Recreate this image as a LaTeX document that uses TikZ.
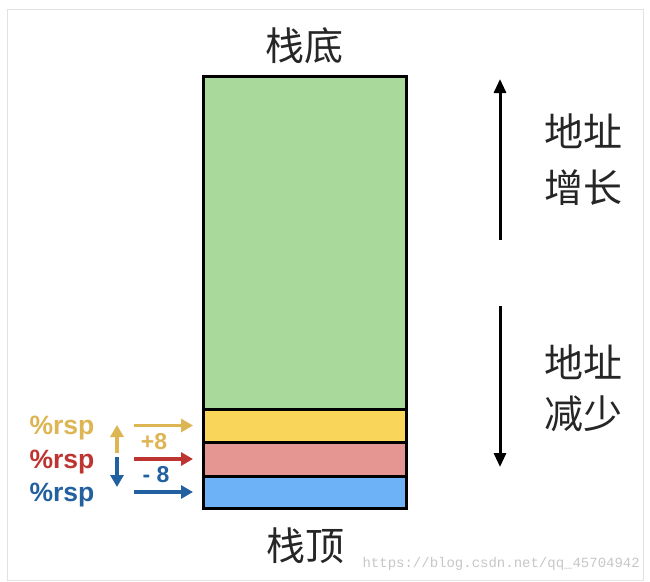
\documentclass[tikz,border=0pt]{standalone}
\usepackage{fontspec}
\setmainfont{Liberation Sans}
\newfontfamily\cjk{Noto Sans CJK SC}
\newfontfamily\wmfont{Liberation Mono}
\usetikzlibrary{arrows.meta}
\definecolor{cgreen}{HTML}{A9D99B}
\definecolor{cyellow}{HTML}{F9D55A}
\definecolor{cred}{HTML}{E59592}
\definecolor{cblue}{HTML}{6DB1F6}
\definecolor{tyellow}{HTML}{DDB552}
\definecolor{tred}{HTML}{BE3431}
\definecolor{tblue}{HTML}{2360A0}
\definecolor{frame}{HTML}{E2E2E2}
\tikzset{
  cell/.style={draw=black, line width=3pt, inner sep=0pt, outer sep=0pt, minimum width=203pt, anchor=north west},
  cjklabel/.style={font=\cjk\fontsize{39}{44}\selectfont, text=black!85, inner sep=0pt},
  reg/.style={font=\bfseries\fontsize{26.5}{28}\selectfont, inner sep=0pt},
  off/.style={font=\bfseries\fontsize{23}{24}\selectfont, inner sep=0pt},
  bigarrow/.style={line width=3pt, -{Triangle[length=14pt, width=12pt]}},
  smallarrow/.style={line width=3.5pt, -{Triangle[length=12pt, width=13pt]}},
}
\begin{document}
\begin{tikzpicture}[x=1pt, y=-1pt]
\useasboundingbox (0,0) rectangle (650,581);
\fill[white] (0,0) rectangle (650,581);
\draw[frame, line width=1pt] (7,9) rectangle (643,580);

% stack cells
\node[cell, fill=cgreen, minimum height=333pt] (g) at (203,76) {};
\node[cell, fill=cyellow, minimum height=33pt] (y) at (203,409) {};
\node[cell, fill=cred, minimum height=34pt] (r) at (203,442) {};
\node[cell, fill=cblue, minimum height=32pt] (b) at (203,476) {};

% labels
\node[cjklabel] (bottom) at (304,46) {栈底};
\node[cjklabel] (top) at (305,546) {栈顶};
\node[cjklabel, align=center] (inc) at (583,160) {地址\\[12pt]增长};
\node[cjklabel, align=center] (dec) at (583,388) {地址\\[7pt]减少};

% direction arrows
\coordinate (upS) at (500,240);
\coordinate (upE) at (500,79);
\coordinate (dnS) at (500,306);
\coordinate (dnE) at (500,467);
\draw[bigarrow] (upS) -- (upE);
\draw[bigarrow] (dnS) -- (dnE);

% register labels
\node[reg, text=tyellow] (ry) at (62,428) {\%rsp};
\node[reg, text=tred] (rr) at (62,462) {\%rsp};
\node[reg, text=tblue] (rb) at (62,495) {\%rsp};

% small vertical arrows
\coordinate (suS) at (117,453);
\coordinate (suE) at (117,425);
\coordinate (sdS) at (117,457);
\coordinate (sdE) at (117,487);
\draw[smallarrow, tyellow] (suS) -- (suE);
\draw[smallarrow, tblue] (sdS) -- (sdE);

% horizontal arrows
\coordinate (hy) at (134,425.5);
\coordinate (hr) at (134,459);
\coordinate (hb) at (134,492);
\draw[smallarrow, tyellow] (hy) -- ([xshift=-10pt]y.west);
\draw[smallarrow, tred] (hr) -- ([xshift=-10pt]r.west);
\draw[smallarrow, tblue] (hb) -- ([xshift=-10pt]b.west);

\node[off, text=tyellow] (p8) at (154,442) {+8};
\node[off, text=tblue] (m8) at (156,475) {- 8};

% watermark
\node[font=\wmfont\fontsize{14}{16}\selectfont, text=black!22, inner sep=0pt, anchor=east] (wm) at (640,564) {https://blog.csdn.net/qq\_45704942};
\end{tikzpicture}
\end{document}
